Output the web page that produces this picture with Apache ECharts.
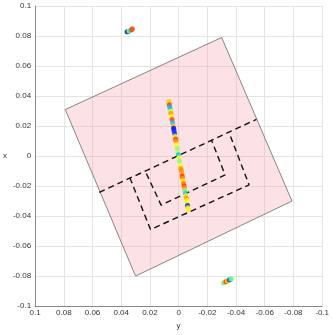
<!DOCTYPE html>
<html>
<head>
<meta charset="utf-8">
<script src="https://cdn.jsdelivr.net/npm/echarts@6/dist/echarts.min.js"></script>
<style>html,body{margin:0;padding:0;background:#fff}#c{width:332px;height:335px}</style>
</head>
<body>
<div id="c"></div>
<script>
// Tick labels (axis from 0.1 down to -0.1)
var tickValues = [0.1, 0.08, 0.06, 0.04, 0.02, 0, -0.02, -0.04, -0.06, -0.08, -0.1];

// Pink square corners: horizontal ("y") and vertical ("x") values
var rectY = [-0.030, 0.079, 0.030, -0.079];
var rectX = [0.079, 0.031, -0.080, -0.030];

// Dashed long line
var longLineY = [0.0553, -0.0542];
var longLineX = [-0.0242, 0.0244];
// Outer dashed U
var outerUY = [0.0340, 0.0196, -0.0491, -0.0354];
var outerUX = [-0.0144, -0.0490, -0.0192, 0.0150];
// Inner dashed U
var innerUY = [0.0225, 0.0122, -0.0324, -0.0228];
var innerUX = [-0.0116, -0.0327, -0.0126, 0.0109];

// Main scatter streak: y value, x value, colour value (0 blue .. 1 red)
var mainY = [0.0069, 0.0067, 0.0065, 0.0062, 0.0059, 0.0057, 0.0054, 0.0050, 0.0046, 0.0042, 0.0038, 0.0035, 0.0032, 0.0028, 0.0025, 0.0021, 0.0019, 0.0014, 0.0009, 0.0005, 0.0002, -0.0002, -0.0006, -0.0012, -0.0016, -0.0019, -0.0022, -0.0025, -0.0028, -0.0031, -0.0034, -0.0038, -0.0040, -0.0043, -0.0047, -0.0050, -0.0053, -0.0056, -0.0059, -0.0062, -0.0065, -0.0067];
var mainX = [0.0364, 0.0353, 0.0342, 0.0327, 0.0314, 0.0299, 0.0286, 0.0266, 0.0244, 0.0222, 0.0201, 0.0185, 0.0168, 0.0150, 0.0131, 0.0113, 0.0098, 0.0076, 0.0048, 0.0026, 0.0009, -0.0011, -0.0033, -0.0061, -0.0083, -0.0098, -0.0116, -0.0133, -0.0148, -0.0166, -0.0181, -0.0198, -0.0214, -0.0229, -0.0246, -0.0264, -0.0279, -0.0297, -0.0312, -0.0329, -0.0345, -0.0355];
var mainC = [0.72, 0.65, 0.97, 0.2, 0.22, 0.6, 0.8, 0.62, 0.95, 0.2, 0.72, 0.0, 0.03, 0.06, 0.6, 0.97, 0.8, 0.6, 0.4, 0.5, 0.2, 0.6, 0.4, 0.58, 0.8, 0.82, 0.75, 0.97, 0.8, 0.62, 0.82, 0.95, 0.78, 0.4, 0.25, 0.62, 0.78, 0.6, 0.58, 0.02, 0.6, 0.62];

// Upper-left cluster
var clusterAY = [0.0363, 0.0358, 0.0352, 0.0346, 0.0340, 0.0333, 0.0325, 0.0322];
var clusterAX = [0.0826, 0.0828, 0.0830, 0.0833, 0.0836, 0.0838, 0.0844, 0.0848];
var clusterAC = [0.4, 0.0, 0.05, 0.6, 0.4, 0.2, 0.95, 0.9];

// Lower-right cluster
var clusterBY = [-0.0313, -0.0320, -0.0328, -0.0333, -0.0340, -0.0347, -0.0355, -0.0362, -0.0368];
var clusterBX = [-0.0846, -0.0843, -0.0838, -0.0836, -0.0833, -0.0829, -0.0825, -0.0821, -0.0818];
var clusterBC = [0.4, 0.35, 0.8, 0.97, 0.6, 0.8, 0.05, 0.2, 0.4];

function zip2(a, b) { return a.map(function (v, i) { return [v, b[i]]; }); }
function zip3(a, b, c) { return a.map(function (v, i) { return [v, b[i], c[i]]; }); }
function fmt(v) { return String(+(+v).toFixed(3)); }

var chart = echarts.init(document.getElementById('c'), null, {renderer: 'canvas'});
var axisCommon = {
  type: 'value', min: -0.1, max: 0.1, interval: 0.02,
  nameLocation: 'middle', nameTextStyle: {fontSize: 8, color: '#333', fontFamily: 'Liberation Sans'},
  axisLine: {show: true, onZero: false, lineStyle: {color: '#888', width: 1}},
  axisTick: {show: false},
  axisLabel: {fontSize: 8, color: '#333', fontFamily: 'Liberation Sans', formatter: fmt},
  splitLine: {show: true, lineStyle: {color: '#e4e4e4', width: 1}}
};
var dashStyle = {color: '#111', width: 1.4, type: [6, 4]};
chart.setOption({
  animation: false,
  grid: {left: 32, right: 8.5, top: 6, bottom: 23},
  xAxis: Object.assign({}, axisCommon, {name: 'y', nameGap: 10, inverse: true, position: 'bottom',
    axisLabel: Object.assign({}, axisCommon.axisLabel, {margin: 3})}),
  yAxis: Object.assign({}, axisCommon, {name: 'x', nameGap: 25, nameRotate: 0, position: 'left',
    axisLabel: Object.assign({}, axisCommon.axisLabel, {margin: 4})}),
  visualMap: {type: 'continuous', show: false, min: 0, max: 1, dimension: 2, seriesIndex: [4, 5, 6],
    inRange: {color: ['#0000ff', '#00c0ff', '#80ff80', '#ffff00', '#ff9000', '#ff2000']}},
  series: [
    {type: 'custom', z: 1, data: [[0, 0]], silent: true,
      renderItem: function (params, api) {
        var pts = rectY.map(function (v, i) { return api.coord([v, rectX[i]]); });
        return {type: 'polygon', shape: {points: pts},
          style: {fill: 'rgba(250,160,170,0.3)', stroke: '#555', lineWidth: 0.7}};
      }},
    {type: 'line', z: 2, symbol: 'none', data: zip2(longLineY, longLineX), lineStyle: dashStyle},
    {type: 'line', z: 2, symbol: 'none', data: zip2(outerUY, outerUX), lineStyle: dashStyle},
    {type: 'line', z: 2, symbol: 'none', data: zip2(innerUY, innerUX), lineStyle: dashStyle},
    {type: 'scatter', z: 3, symbolSize: 5, data: zip3(mainY, mainX, mainC)},
    {type: 'scatter', z: 3, symbolSize: 5, data: zip3(clusterAY, clusterAX, clusterAC)},
    {type: 'scatter', z: 3, symbolSize: 5, data: zip3(clusterBY, clusterBX, clusterBC)}
  ]
});
</script>
</body>
</html>
